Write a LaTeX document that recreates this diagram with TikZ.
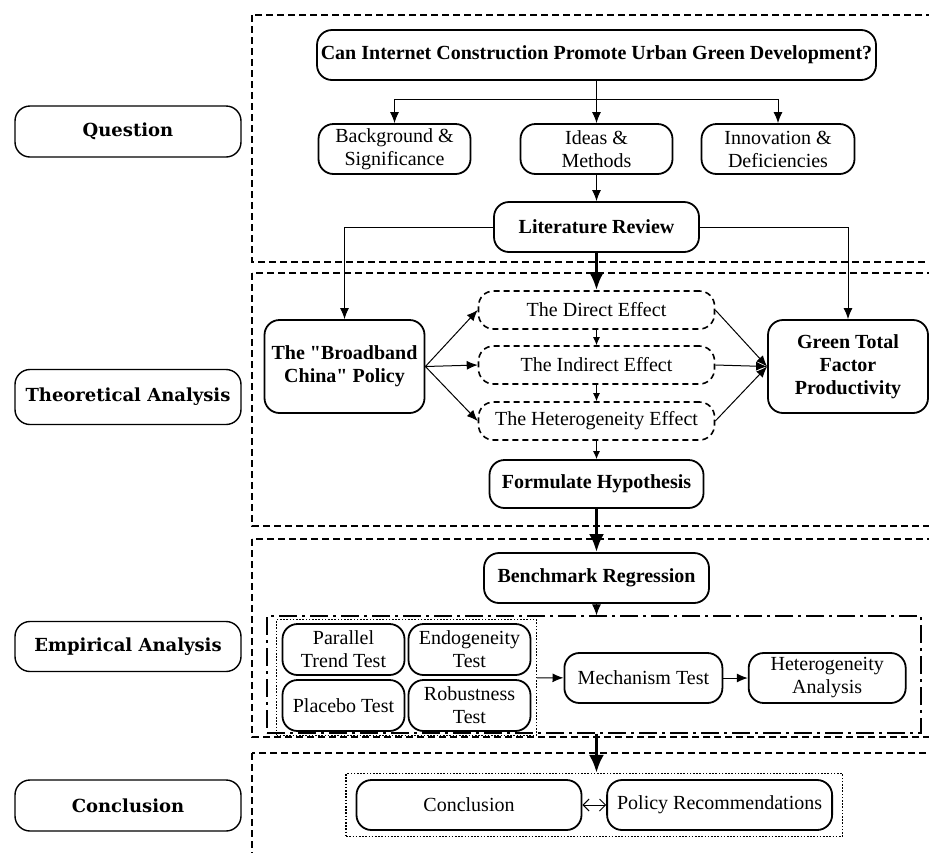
\documentclass[tikz,border=0pt]{standalone}
\usepackage{fontspec}
\setmainfont{Liberation Serif}[Ligatures=TeXOff]
\newfontfamily\lblfont{DejaVu Serif}
\usetikzlibrary{positioning,fit,arrows.meta}
\begin{document}
\begin{tikzpicture}[x=1pt,y=-1pt,
    box/.style={draw,line width=1.8pt,rounded corners=15pt,align=center,inner sep=2pt,
      font=\fontsize{20}{23}\selectfont},
    bbox/.style={box,font=\fontsize{20}{23}\selectfont\bfseries},
    effect/.style={box,line width=1.6pt,dash pattern=on 6pt off 4pt,rounded corners=15pt,
      minimum width=236pt,minimum height=38pt},
    lbl/.style={draw,line width=1.4pt,rounded corners=15pt,minimum width=226pt,
      font=\lblfont\fontsize{18}{20}\selectfont\bfseries},
    part/.style={line width=1.3pt,dash pattern=on 7pt off 4pt},
    arr/.style={-{Latex[length=11pt,width=9pt]},line width=1pt},
    smallarr/.style={-{Latex[length=8pt,width=7pt]},line width=1pt},
    bigarr/.style={-{Latex[length=18pt,width=15pt]},line width=3.5pt}]
    \useasboundingbox (0,0) rectangle (929,852);
    \draw[part] (252,15) rectangle (945,262);
    \draw[part] (252,273) rectangle (945,526);
    \draw[part] (252,539) rectangle (945,737);
    \draw[part] (252,753) rectangle (945,870);
    \node[lbl,minimum height=51pt] (lq) at (128,131.5) {Question};
    \node[lbl,minimum height=55pt] (lt) at (128,397) {Theoretical Analysis};
    \node[lbl,minimum height=50pt] (le) at (128,646.5) {Empirical Analysis};
    \node[lbl,minimum height=51pt] (lc) at (128,805.5) {Conclusion};
    \node[bbox,minimum width=559pt,minimum height=50pt] (q) at (596.5,55)
      {Can Internet Construction Promote Urban Green Development?};
    \node[box,minimum width=152pt,minimum height=50pt] (bg) at (394.5,149) {Background \&\\Significance};
    \node[box,minimum width=152pt,minimum height=50pt] (idea) at (596.5,149) {Ideas \&\\Methods};
    \node[box,minimum width=153pt,minimum height=50pt] (innov) at (778,149) {Innovation \&\\Deficiencies};
    \node[bbox,minimum width=205pt,minimum height=50pt] (lit) at (596.5,227) {Literature Review};
    \node[bbox,minimum width=160pt,minimum height=93pt] (bband) at (344.5,366.5) {The "Broadband\\China" Policy};
    \node[effect] (direct) at (596.5,310) {The Direct Effect};
    \node[effect] (indirect) at (596.5,365) {The Indirect Effect};
    \node[effect] (hetero) at (596.5,421) {The Heterogeneity Effect};
    \node[bbox,minimum width=160pt,minimum height=93pt] (gtfp) at (848,366.5) {Green Total\\Factor\\Productivity};
    \node[bbox,minimum width=214pt,minimum height=48pt] (hyp) at (596.5,484) {Formulate Hypothesis};
    \node[bbox,minimum width=225pt,minimum height=50pt] (bench) at (596.5,578) {Benchmark Regression};
    \node[box,minimum width=122pt,minimum height=51pt] (para) at (343.5,649.5) {Parallel\\Trend Test};
    \node[box,minimum width=122pt,minimum height=51pt] (endo) at (469.5,649.5) {Endogeneity\\Test};
    \node[box,minimum width=122pt,minimum height=51pt] (placebo) at (343.5,705.5) {Placebo Test};
    \node[box,minimum width=122pt,minimum height=51pt] (robust) at (469.5,705.5) {Robustness\\Test};
    \node[draw,line width=1.4pt,dash pattern=on 1.6pt off 1.6pt,fit=(para)(robust),
      inner xsep=5pt,inner ysep=3.5pt] (robfit) {};
    \node[draw,line width=1.3pt,dash pattern=on 18pt off 5pt on 3pt off 5pt,
      minimum width=654pt,minimum height=117pt] (tests) at (594,674.5) {};
    \node[box,minimum width=158pt,minimum height=50pt] (mech) at (643.4,678) {Mechanism Test};
    \node[box,minimum width=157pt,minimum height=50pt] (hetan) at (827.2,678) {Heterogeneity\\Analysis};
    \node[box,minimum width=225pt,minimum height=50pt] (concl) at (469,805) {Conclusion};
    \node[box,minimum width=225pt,minimum height=50pt] (policy) at (719.6,805) {Policy Recommendations};
    \node[draw,line width=1.4pt,dash pattern=on 1.6pt off 1.6pt,fit=(concl)(policy),
      inner xsep=9.5pt,inner ysep=5.5pt] (outfit) {};
    \coordinate (split) at (596.5,99);
    \draw[line width=1pt] (q) -- (split);
    \draw[arr] (split) -| (bg);
    \draw[arr] (split) -| (innov);
    \draw[arr] (split) -- (idea);
    \draw[arr] (idea) -- (lit);
    \draw[arr] (lit.west) -| (bband);
    \draw[arr] (lit.east) -| (gtfp);
    \draw[bigarr] (lit) -- (direct);
    \draw[arr] (bband.east) -- (direct.west);
    \draw[arr] (bband.east) -- (indirect.west);
    \draw[arr] (bband.east) -- (hetero.west);
    \draw[arr] (direct.east) -- (gtfp.west);
    \draw[arr] (indirect.east) -- (gtfp.west);
    \draw[arr] (hetero.east) -- (gtfp.west);
    \draw[smallarr] (direct) -- (indirect);
    \draw[smallarr] (indirect) -- (hetero);
    \draw[smallarr] (hetero) -- (hyp);
    \draw[bigarr] (hyp) -- (bench);
    \draw[arr] (bench.south) -- (bench.south |- tests.north);
    \draw[arr] (robfit) -- (mech);
    \draw[arr] (mech) -- (hetan);
    \draw[bigarr] (bench.south |- tests.south) -- (bench.south |- outfit.north);
    \draw[{Straight Barb[length=6pt]}-{Straight Barb[length=6pt]},line width=1pt] (concl) -- (policy);
\end{tikzpicture}
\end{document}
